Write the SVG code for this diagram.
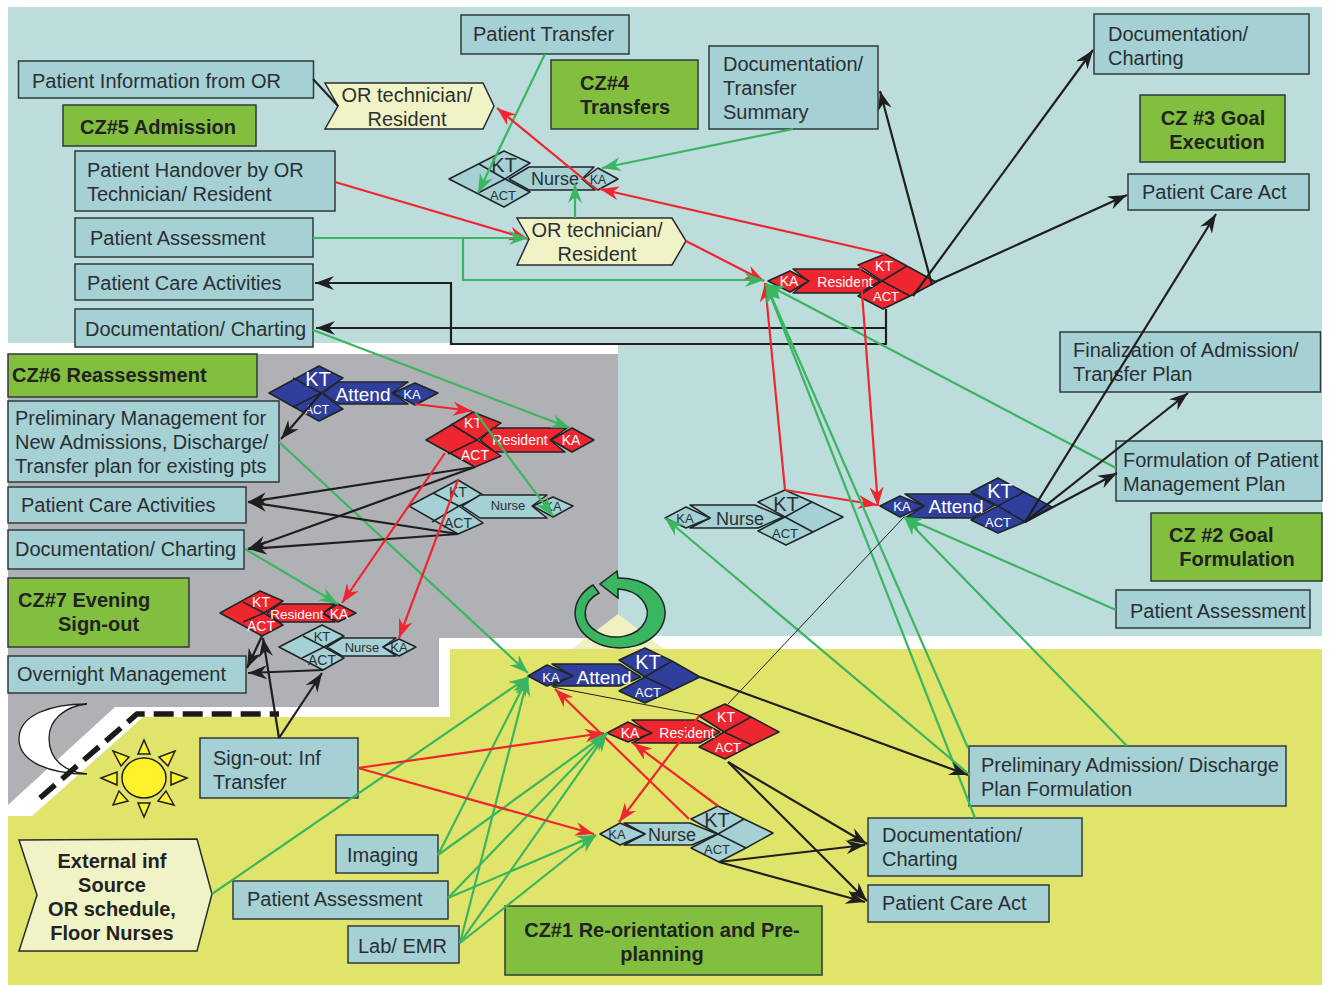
<svg xmlns="http://www.w3.org/2000/svg" width="1329" height="985" viewBox="0 0 1329 985">
<style>
text{font-family:"Liberation Sans",Arial,sans-serif;fill:#2b2f31}
.t{font-size:20px}
.b{font-size:20px;font-weight:bold;fill:#222}
.m{text-anchor:middle}
.box{fill:#a5d0d4;stroke:#2f3a3c;stroke-width:1.5}
.cz{fill:#83bf3f;stroke:#2f3a3c;stroke-width:1.5}
.pale{fill:#f0f3c5;stroke:#2a2a2a;stroke-width:1.5}
.ag polygon,.ag line{stroke:#1f2426;stroke-width:1.5;stroke-linejoin:round}
.ag text{text-anchor:middle}
.blue polygon{fill:#2f3f9b}.blue text{fill:#fff}
.red polygon{fill:#ed2630}.red text{fill:#fff}
.teal polygon{fill:#a5d0d4}.teal text{fill:#2b2f31}
.k{fill:none;stroke:#1f1f1f;stroke-width:2.2;marker-end:url(#ak)}
.r{fill:none;stroke:#ed2630;stroke-width:2.2;marker-end:url(#ar)}
.g{fill:none;stroke:#3ab560;stroke-width:2.2;marker-end:url(#ag)}
.n{fill:none;stroke:#1f1f1f;stroke-width:1}
.ray{fill:#fff22d;stroke:#1f1f1f;stroke-width:1.5}
</style>
<defs>
<marker id="ak" markerUnits="userSpaceOnUse" markerWidth="20" markerHeight="14" refX="19" refY="7" orient="auto"><path d="M19,7 L0,0 L6,7 L0,14 Z" fill="#1f1f1f"/></marker>
<marker id="ar" markerUnits="userSpaceOnUse" markerWidth="20" markerHeight="14" refX="19" refY="7" orient="auto"><path d="M19,7 L0,0 L6,7 L0,14 Z" fill="#ed2630"/></marker>
<marker id="ag" markerUnits="userSpaceOnUse" markerWidth="20" markerHeight="14" refX="19" refY="7" orient="auto"><path d="M19,7 L0,0 L6,7 L0,14 Z" fill="#3ab560"/></marker>
</defs>
<rect width="1329" height="985" fill="#fff"/>
<g id="background">
<polygon fill="#bddcdc" points="8,7 1322,7 1322,636 618,636 618,343 8,343"/>
<polygon fill="#b0b1b5" points="8,354 618,354 618,638 439,638 439,707 115,707 8,805"/>
<polygon fill="#e1e46a" points="450,649 1322,649 1322,985 8,985 8,816 32,816 143,717 450,717"/>
<polygon fill="#eef2c0" points="618,614 664,649 572,649"/>
</g>
<g id="cycle-arrow"><path d="M593,585 A45,35 0 1 0 618,578 L617,571 L600,584 L618,598 L618,589 A31,24 0 1 1 599,593 Z" fill="#3ab560" stroke="#1f2426" stroke-width="1.5"/></g>
<g id="moon"><path d="M87,704 C50,704 19,715 19,739 C19,762 50,774 87,774 C65,772 49,760 49,738 C49,720 65,706 87,704 Z" fill="#fff" stroke="#1f1f1f" stroke-width="1.3"/></g>
<path id="day-night-line" d="M40,798 L137,714 L279,714" fill="none" stroke="#1a1a1a" stroke-width="5.5" stroke-dasharray="20 9"/>
<g id="sun">
<ellipse cx="144" cy="778" rx="22" ry="20" class="ray"/>
<polygon class="ray" points="144,740 138,754 150,754"/>
<polygon class="ray" points="144,817 138,803 150,803"/>
<polygon class="ray" points="101,778 117,772 117,785"/>
<polygon class="ray" points="187,778 171,772 171,785"/>
<polygon class="ray" points="113,751 129,757 121,766"/>
<polygon class="ray" points="175,751 159,757 168,766"/>
<polygon class="ray" points="113,805 119,791 128,801"/>
<polygon class="ray" points="174,805 166,791 158,801"/>
</g>

<g id="n-info"><rect class="box" x="18.5" y="61" width="295" height="37"/><text class="t" x="32" y="88">Patient Information from OR</text></g>
<g id="cz5"><rect class="cz" x="63" y="105" width="193" height="41"/><text class="b" x="80" y="134">CZ#5 Admission</text></g>
<g id="n-handover"><rect class="box" x="75" y="151" width="260" height="60"/><text class="t" x="87" y="177">Patient Handover by OR</text><text class="t" x="87" y="201">Technician/ Resident</text></g>
<g id="n-assess1"><rect class="box" x="75" y="218" width="238" height="39"/><text class="t" x="90" y="245">Patient Assessment</text></g>
<g id="n-care1"><rect class="box" x="75" y="264" width="238" height="36"/><text class="t" x="87" y="290">Patient Care Activities</text></g>
<g id="n-doc1"><rect class="box" x="75" y="309" width="238" height="38"/><text class="t" x="85" y="336">Documentation/ Charting</text></g>
<g id="n-transfer"><rect class="box" x="461" y="15" width="168" height="39"/><text class="t" x="473" y="41">Patient Transfer</text></g>
<g id="cz4"><rect class="cz" x="551" y="60" width="147" height="69"/><text class="b" x="580" y="90">CZ#4</text><text class="b" x="580" y="114">Transfers</text></g>
<g id="n-doc-transfer"><rect class="box" x="709" y="46" width="169" height="83"/><text class="t" x="723" y="71">Documentation/</text><text class="t" x="723" y="95">Transfer</text><text class="t" x="723" y="119">Summary</text></g>
<g id="n-doc2"><rect class="box" x="1094" y="14" width="215" height="60"/><text class="t" x="1108" y="41">Documentation/</text><text class="t" x="1108" y="65">Charting</text></g>
<g id="cz3"><rect class="cz" x="1140" y="95" width="145" height="67"/><text class="b m" x="1213" y="125">CZ #3 Goal</text><text class="b m" x="1217" y="149">Execution</text></g>
<g id="n-care-act1"><rect class="box" x="1128" y="174" width="181" height="36"/><text class="t" x="1142" y="199">Patient Care Act</text></g>
<g id="n-final"><rect class="box" x="1060" y="332" width="260.500" height="60"/><text class="t" x="1073" y="357">Finalization of Admission/</text><text class="t" x="1073" y="381">Transfer Plan</text></g>
<g id="n-form"><rect class="box" x="1116" y="441" width="206" height="60"/><text class="t" x="1123" y="467">Formulation of Patient</text><text class="t" x="1123" y="491">Management Plan</text></g>
<g id="cz2"><rect class="cz" x="1151" y="513" width="171" height="68"/><text class="b" x="1169" y="542">CZ #2 Goal</text><text class="b m" x="1237" y="566">Formulation</text></g>
<g id="n-assess2"><rect class="box" x="1116" y="590" width="194" height="38"/><text class="t" x="1130" y="618">Patient Assessment</text></g>
<g id="cz6"><rect class="cz" x="8" y="354" width="249" height="43"/><text class="b" x="12" y="382">CZ#6 Reassessment</text></g>
<g id="n-prelim"><rect class="box" x="8" y="401" width="271" height="81"/><text class="t" x="15" y="425">Preliminary Management for</text><text class="t" x="15" y="449">New Admissions, Discharge/</text><text class="t" x="15" y="473">Transfer plan for existing pts</text></g>
<g id="n-care2"><rect class="box" x="8" y="487" width="238" height="36"/><text class="t" x="21" y="512">Patient Care Activities</text></g>
<g id="n-doc3"><rect class="box" x="8" y="530" width="236" height="39"/><text class="t" x="15" y="556">Documentation/ Charting</text></g>
<g id="cz7"><rect class="cz" x="8" y="578" width="181" height="69"/><text class="b" x="18" y="607">CZ#7 Evening</text><text class="b" x="58" y="631">Sign-out</text></g>
<g id="n-overnight"><rect class="box" x="8" y="656" width="238" height="37"/><text class="t" x="17" y="681">Overnight Management</text></g>
<g id="n-signout"><rect class="box" x="200" y="738" width="158" height="60"/><text class="t" x="213" y="765">Sign-out: Inf</text><text class="t" x="213" y="789">Transfer</text></g>
<g id="n-imaging"><rect class="box" x="336" y="835" width="102" height="38"/><text class="t" x="347" y="862">Imaging</text></g>
<g id="n-assess3"><rect class="box" x="233" y="881" width="215" height="38"/><text class="t" x="247" y="906">Patient Assessment</text></g>
<g id="n-lab"><rect class="box" x="348" y="926" width="111" height="37"/><text class="t" x="358" y="953">Lab/ EMR</text></g>
<g id="cz1"><rect class="cz" x="505" y="906" width="317" height="69"/><text class="b m" x="662" y="937">CZ#1 Re-orientation and Pre-</text><text class="b m" x="662" y="961">planning</text></g>
<g id="n-prelim-adm"><rect class="box" x="969" y="746" width="317" height="60"/><text class="t" x="981" y="772">Preliminary Admission/ Discharge</text><text class="t" x="981" y="796">Plan Formulation</text></g>
<g id="n-doc4"><rect class="box" x="868" y="818" width="214" height="58"/><text class="t" x="882" y="842">Documentation/</text><text class="t" x="882" y="866">Charting</text></g>
<g id="n-care-act2"><rect class="box" x="868" y="885" width="181" height="37"/><text class="t" x="882" y="910">Patient Care Act</text></g>
<g id="n-external"><polygon class="pale" points="19,840 197,839 212,894 197,951 19,951 37,895"/><text class="b m" x="112" y="868">External inf</text><text class="b m" x="112" y="892">Source</text><text class="b m" x="112" y="916">OR schedule,</text><text class="b m" x="112" y="940">Floor Nurses</text></g>
<g id="n-or1"><polygon class="pale" points="325,83 483,83 494,106 483,129 325,129 338,106"/><text class="t m" x="407" y="102">OR technician/</text><text class="t m" x="407" y="126">Resident</text></g>
<g id="n-or2"><polygon class="pale" points="517,218 672,218 686,241 672,265 517,265 529,239"/><text class="t m" x="597" y="237">OR technician/</text><text class="t m" x="597" y="261">Resident</text></g>

<g id="a-nurse-top" class="ag teal"><polygon points="449,179 504,151 530,163 505,179 530,192 504,207"/><line x1="479" y1="164" x2="505" y2="179"/><line x1="478" y1="193" x2="505" y2="179"/><polygon points="509,179 529,167 594,167 582,179 595,190 529,190"/><polygon points="583,179 598,168 618,179 598,190"/><text x="504" y="172" font-size="20">KT</text><text x="555" y="185" font-size="18">Nurse</text><text x="503" y="200" font-size="13">ACT</text><text x="598" y="184" font-size="12">KA</text></g>
<g id="a-resident-top" class="ag red"><polygon points="882,281 858,265 885,254 907,266 936,282 910,296 883,309 858,296"/><line x1="882" y1="281" x2="907" y2="266"/><line x1="882" y1="281" x2="910" y2="296"/><polygon points="793,269 860,269 880,281 860,293 793,293 808,281"/><polygon points="768,281 790,271 809,281 790,292"/><text x="884" y="271" font-size="14">KT</text><text x="886" y="301" font-size="13">ACT</text><text x="845" y="287" font-size="14">Resident</text><text x="789" y="286" font-size="14">KA</text></g>
<g id="a-attend-gray" class="ag blue"><polygon points="269,393 319,366 343,378 321,393 343,409 319,421"/><line x1="293" y1="378" x2="321" y2="393"/><line x1="293" y1="407" x2="321" y2="393"/><polygon points="323,393 338,382 408,382 392,393 408,404 338,404"/><polygon points="393,393 415,383 438,393 415,405"/><text x="318" y="386" font-size="20">KT</text><text x="363" y="401" font-size="19">Attend</text><text x="317" y="414" font-size="12">ACT</text><text x="412" y="399" font-size="13">KA</text></g>
<g id="a-resident-gray" class="ag red"><polygon points="426,440 473,412 501,423 477,440 501,456 475,467"/><line x1="451" y1="424" x2="477" y2="440"/><line x1="448" y1="454" x2="477" y2="440"/><polygon points="480,440 493,428 567,428 550,440 565,452 495,452"/><polygon points="551,440 572,428 594,440 572,452"/><text x="473" y="428" font-size="14">KT</text><text x="520" y="445" font-size="14">Resident</text><text x="475" y="460" font-size="14">ACT</text><text x="571" y="445" font-size="14">KA</text></g>
<g id="a-nurse-gray" class="ag teal"><polygon points="409,506 458,480 483,495 459,506 483,523 458,534"/><line x1="433" y1="493" x2="459" y2="506"/><line x1="432" y1="522" x2="459" y2="506"/><polygon points="462,506 480,495 547,495 532,506 547,518 480,518"/><polygon points="533,506 553,497 573,506 553,517"/><text x="458" y="497" font-size="14">KT</text><text x="508" y="510" font-size="13">Nurse</text><text x="458" y="528" font-size="14">ACT</text><text x="553" y="511" font-size="13">KA</text></g>
<g id="a-resident-eve" class="ag red"><polygon points="220,613 260,591 283,601 264,613 283,625 262,636"/><line x1="243" y1="602" x2="264" y2="613"/><line x1="243" y1="622" x2="264" y2="613"/><polygon points="267,613 280,604 335,604 323,613 335,622 280,622"/><polygon points="323,613 338,604 356,613 338,622"/><text x="261" y="607" font-size="14">KT</text><text x="297" y="619" font-size="13.500">Resident</text><text x="261" y="631" font-size="14">ACT</text><text x="339" y="619" font-size="14">KA</text></g>
<g id="a-nurse-eve" class="ag teal"><polygon points="279,647 322,625 344,636 324,647 344,658 323,670"/><line x1="303" y1="636" x2="324" y2="647"/><line x1="302" y1="658" x2="324" y2="647"/><polygon points="327,647 342,638 396,638 383,647 396,656 342,656"/><polygon points="383,647 399,639 416,647 399,656"/><text x="322" y="641" font-size="13">KT</text><text x="362" y="652" font-size="13">Nurse</text><text x="322" y="665" font-size="14">ACT</text><text x="399" y="652" font-size="13">KA</text></g>
<g id="a-nurse-right" class="ag teal"><polygon points="785,517 758,502 785,490 812,502 843,517 813,532 786,545 758,531"/><line x1="785" y1="517" x2="812" y2="502"/><line x1="785" y1="517" x2="813" y2="532"/><polygon points="690,505 755,505 783,517 758,528 690,528 710,518"/><polygon points="665,518 686,507 710,518 686,528"/><text x="786" y="511" font-size="20">KT</text><text x="740" y="525" font-size="18">Nurse</text><text x="785" y="538" font-size="13">ACT</text><text x="685" y="523" font-size="13">KA</text></g>
<g id="a-attend-right" class="ag blue"><polygon points="998,506 971,492 998,478 1024,492 1052,507 1025,522 998,533 971,520"/><line x1="998" y1="506" x2="1024" y2="492"/><line x1="998" y1="506" x2="1025" y2="522"/><polygon points="905,494 972,494 995,505 972,518 905,518 924,506"/><polygon points="880,506 900,496 924,506 900,517"/><text x="1000" y="498" font-size="20">KT</text><text x="956" y="513" font-size="19">Attend</text><text x="998" y="527" font-size="13">ACT</text><text x="902" y="511" font-size="13">KA</text></g>
<g id="a-attend-bottom" class="ag blue"><polygon points="645,677 619,660 645,648 672,661 700,677 673,690 645,703 619,691"/><line x1="645" y1="677" x2="672" y2="661"/><line x1="645" y1="677" x2="673" y2="690"/><polygon points="552,664 620,664 641,677 620,686 552,686 572,676"/><polygon points="528,676 547,665 573,676 547,686"/><text x="648" y="669" font-size="20">KT</text><text x="604" y="684" font-size="19">Attend</text><text x="648" y="697" font-size="13">ACT</text><text x="551" y="682" font-size="13">KA</text></g>
<g id="a-resident-bottom" class="ag red"><polygon points="724,732 699,716 725,704 751,717 779,732 752,745 725,759 699,747"/><line x1="724" y1="732" x2="751" y2="717"/><line x1="724" y1="732" x2="752" y2="745"/><polygon points="632,720 697,720 720,732 700,743 632,743 650,733"/><polygon points="607,733 628,722 652,733 628,742"/><text x="726" y="722" font-size="14">KT</text><text x="687" y="738" font-size="14">Resident</text><text x="728" y="752" font-size="13">ACT</text><text x="630" y="738" font-size="14">KA</text></g>
<g id="a-nurse-bottom" class="ag teal"><polygon points="718,834 691,819 718,806 744,819 773,833 746,848 719,862 691,848"/><line x1="718" y1="834" x2="744" y2="819"/><line x1="718" y1="834" x2="746" y2="848"/><polygon points="624,823 690,823 717,834 692,845 624,845 645,834"/><polygon points="600,834 620,823 645,834 620,845"/><text x="717" y="827" font-size="20">KT</text><text x="672" y="841" font-size="18">Nurse</text><text x="717" y="854" font-size="13">ACT</text><text x="617" y="839" font-size="13">KA</text></g>

<g id="connectors">
<path class="n" style="stroke-width:2" d="M313,79 L338,106"/>
<path class="g" d="M545,54 L478,193"/>
<path class="g" d="M793,129 L602,168"/>
<path class="g" d="M575,218 L575,184"/>
<path class="r" d="M335,182 L528,239"/>
<path class="r" d="M597,190 L497,108"/>
<path class="r" d="M885,254 L600,189"/>
<path class="r" d="M686,241 L764,281"/>
<path class="g" d="M313,238 L528,238"/>
<path class="g" d="M463,238 L463,280 L764,280"/>
<path class="k" d="M886,309 L886,344 L451,344 L451,283 L315,283"/>
<path class="k" d="M886,328 L316,328"/>
<path class="k" d="M913,296 L1093,50"/>
<path class="k" d="M935,282 L1127,195"/>
<path class="k" d="M932,285 L880,91"/>
<path class="g" d="M313,330 L570,428"/>
<path class="g" d="M1116,468 L766,284"/>
<path class="r" d="M860,266 L878,506"/>
<path class="r" d="M785,490 L765,283"/>
<path class="r" d="M785,490 L877,505"/>
<path class="g" d="M975,818 L766,284"/>
<path class="g" d="M968,748 L766,284"/>
<path class="g" d="M1127,746 L904,517"/>
<path class="g" d="M1116,610 L904,517"/>
<path class="g" d="M970,775 L665,518"/>
<path class="n" d="M904,517 L728,704"/>
<path class="n" d="M553,687 L699,715"/>
<path class="r" d="M699,716 L619,822"/>
<path class="r" d="M718,806 L633,743"/>
<path class="r" d="M689,819 L555,689"/>
<path class="k" d="M700,677 L968,775"/>
<path class="k" d="M728,762 L867,844"/>
<path class="k" d="M728,762 L867,901"/>
<path class="k" d="M719,862 L865,845"/>
<path class="k" d="M719,862 L865,902"/>
<path class="k" d="M1025,522 L1216,214"/>
<path class="k" d="M1025,522 L1188,393"/>
<path class="k" d="M1025,522 L1117,473"/>
<path class="r" d="M415,404 L472,411"/>
<path class="g" d="M475,412 L553,516"/>
<path class="k" d="M321,393 L281,439"/>
<path class="g" d="M279,442 L528,673"/>
<path class="k" d="M475,467 L248,502"/>
<path class="k" d="M475,467 L248,549"/>
<path class="k" d="M458,534 L248,502"/>
<path class="k" d="M458,534 L248,549"/>
<path class="r" d="M445,453 L342,603"/>
<path class="r" d="M458,480 L399,638"/>
<path class="g" d="M245,549 L338,604"/>
<path class="k" d="M262,636 L247,668"/>
<path class="k" d="M323,670 L248,673"/>
<path class="k" d="M279,738 L263,638"/>
<path class="k" d="M279,738 L322,673"/>
<path class="g" d="M212,894 L528,677"/>
<path class="g" d="M438,855 L528,677"/>
<path class="g" d="M438,855 L607,733"/>
<path class="g" d="M448,898 L607,733"/>
<path class="g" d="M448,898 L596,835"/>
<path class="g" d="M460,943 L528,677"/>
<path class="g" d="M460,943 L607,733"/>
<path class="g" d="M460,943 L596,835"/>
<path class="r" d="M358,768 L604,733"/>
<path class="r" d="M358,768 L594,834"/>
</g>
</svg>
